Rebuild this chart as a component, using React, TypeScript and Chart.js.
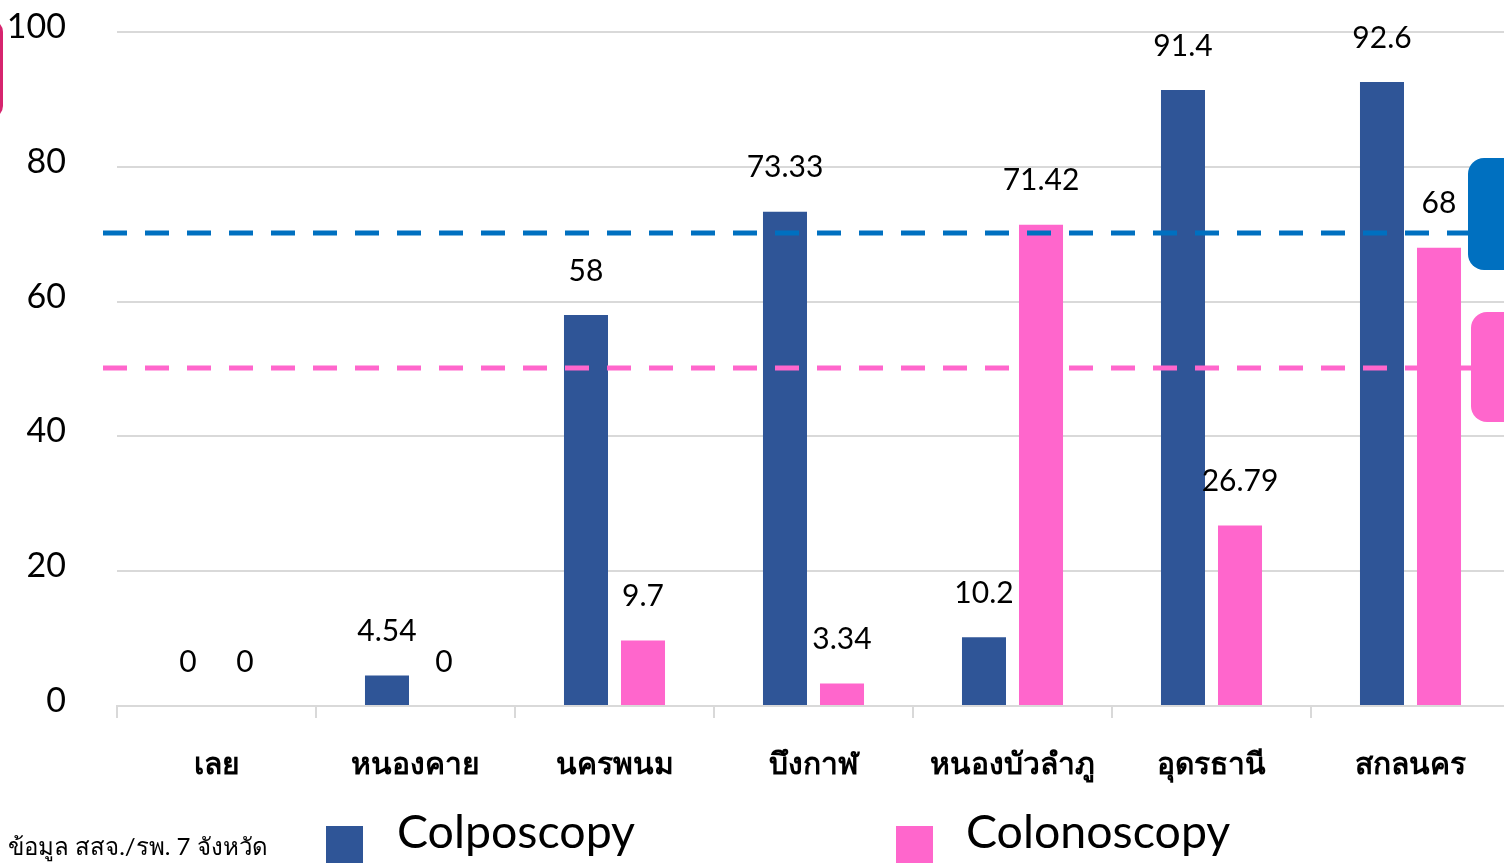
import React, { useEffect, useRef } from "react";
import { Chart, registerables } from "chart.js";

Chart.register(...registerables);

const categories = ["เลย", "หนองคาย", "นครพนม", "บึงกาฬ", "หนองบัวลำภู", "อุดรธานี", "สกลนคร"];
const colposcopy = [0, 4.54, 58, 73.33, 10.2, 91.4, 92.6];
const colonoscopy = [0, 0, 9.7, 3.34, 71.42, 26.79, 68];
const seriesNames = ["Colposcopy", "Colonoscopy"];
const seriesColors = ["#2f5597", "#ff66cc"];
const targetValues = [70, 50];
const targetColors = ["#0070c0", "#ff66cc"];
const yTicks = [0, 20, 40, 60, 80, 100];

const FONT = "Lato, 'Noto Sans', 'DejaVu Sans', sans-serif";

const labelPlugin = {
  id: "valueLabels",
  afterDatasetsDraw(chart: any) {
    const ctx = chart.ctx;
    const yScale = chart.scales.y;
    ctx.save();
    targetValues.forEach((v, i) => {
      const y = Math.round(yScale.getPixelForValue(v)) - 1;
      ctx.beginPath();
      ctx.setLineDash([24, 18]);
      ctx.strokeStyle = targetColors[i];
      ctx.lineWidth = 5;
      ctx.moveTo(103, y);
      ctx.lineTo(chart.width, y);
      ctx.stroke();
    });
    ctx.restore();
    ctx.save();
    ctx.font = `30px ${FONT}`;
    ctx.fillStyle = "#000";
    ctx.textAlign = "center";
    ctx.textBaseline = "middle";
    chart.data.datasets.forEach((ds: any, di: number) => {
      const meta = chart.getDatasetMeta(di);
      meta.data.forEach((el: any, i: number) => {
        ctx.fillText(String(ds.data[i]), el.x, el.y - 44);
      });
    });
    ctx.restore();
  },
};

export default function App() {
  const ref = useRef<HTMLCanvasElement>(null);
  useEffect(() => {
    if (!ref.current) return;
    const chart = new Chart(ref.current, {
      type: "bar",
      data: {
        labels: categories,
        datasets: [
          { label: seriesNames[0], data: colposcopy, backgroundColor: seriesColors[0] },
          { label: seriesNames[1], data: colonoscopy, backgroundColor: seriesColors[1] },
        ],
      },
      options: {
        responsive: false,
        animation: false,
        devicePixelRatio: 1,
        categoryPercentage: 0.573,
        barPercentage: 0.772,
        layout: { padding: { top: 32, right: 10, left: 0, bottom: 0 } },
        plugins: { legend: { display: false }, tooltip: { enabled: false } },
        scales: {
          x: {
            afterFit: (s: any) => { s.height = 157; },
            grid: {
              display: true,
              drawOnChartArea: false,
              drawTicks: true,
              tickLength: 12,
              color: "#d9d9d9",
              lineWidth: 2,
              offset: true,
            },
            border: { display: true, color: "#d9d9d9", width: 2 },
            ticks: {
              padding: 28,
              color: "#000",
              font: { family: FONT, size: 30, weight: "bold" },
              maxRotation: 0,
              autoSkip: false,
            },
          },
          y: {
            min: 0,
            max: 100,
            afterFit: (s: any) => { s.width = 117; s.paddingTop = 0; s.paddingBottom = 0; },
            afterBuildTicks: (s: any) => { s.ticks = yTicks.map((v) => ({ value: v })); },
            grid: { color: "#d9d9d9", lineWidth: 2, drawTicks: false },
            border: { display: false },
            ticks: {
              padding: 51,
              labelOffset: -5,
              color: "#000",
              font: { family: FONT, size: 34 },
            },
          },
        },
      },
      plugins: [labelPlugin],
    });
    return () => chart.destroy();
  }, []);

  return (
    <div style={{ position: "fixed", left: 0, top: 0, width: 1504, height: 863, overflow: "hidden", background: "#fff" }}>
      <canvas ref={ref} width={1520} height={863} style={{ position: "absolute", left: 0, top: 0, width: 1520, height: 863 }} />
      <div style={{ position: "absolute", left: -30, top: 20, width: 33, height: 98, borderRadius: 12, background: "#d6246e" }} />
      <div style={{ position: "absolute", left: 1468, top: 158, width: 60, height: 112, borderRadius: 16, background: "#0070c0" }} />
      <div style={{ position: "absolute", left: 1471, top: 312, width: 60, height: 110, borderRadius: 16, background: "#ff66cc" }} />
      <div style={{ position: "absolute", left: 326, top: 826, width: 37, height: 37, background: seriesColors[0] }} />
      <div style={{ position: "absolute", left: 397, top: 805, fontFamily: FONT, fontSize: 46.5, lineHeight: "50px", color: "#000", whiteSpace: "nowrap" }}>{seriesNames[0]}</div>
      <div style={{ position: "absolute", left: 896, top: 826, width: 37, height: 37, background: seriesColors[1] }} />
      <div style={{ position: "absolute", left: 966, top: 805, fontFamily: FONT, fontSize: 46.5, lineHeight: "50px", color: "#000", whiteSpace: "nowrap" }}>{seriesNames[1]}</div>
      <div style={{ position: "absolute", left: 8, top: 830, fontFamily: FONT, fontSize: 24, lineHeight: "32px", color: "#000", whiteSpace: "nowrap" }}>ข้อมูล สสจ./รพ. 7 จังหวัด</div>
    </div>
  );
}
